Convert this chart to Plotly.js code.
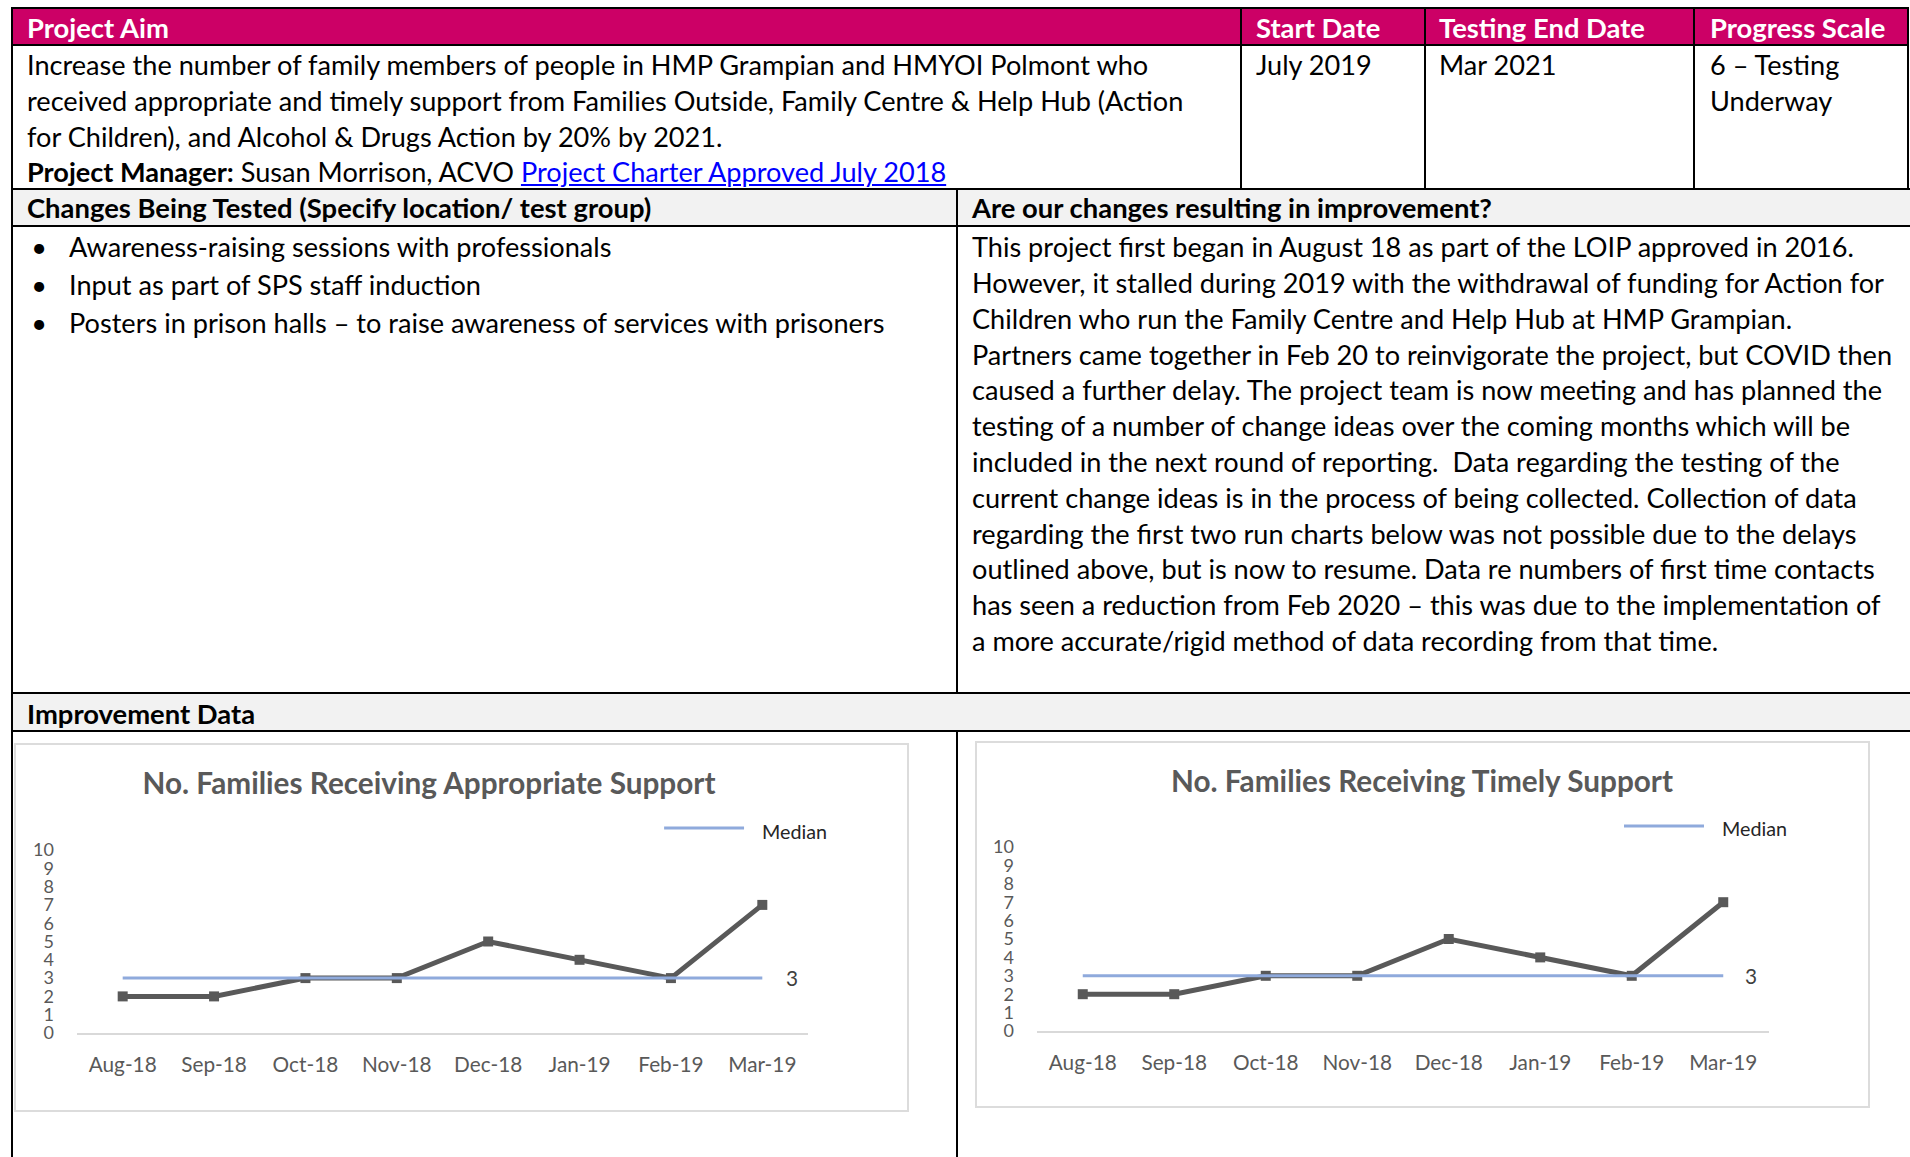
<!DOCTYPE html>
<html>
<head>
<meta charset="utf-8">
<script src="https://cdn.plot.ly/plotly-3.0.1.min.js"></script>
<style>
html,body{margin:0;padding:0;background:#fff;width:1910px;height:1157px;overflow:hidden;font-family:Lato,sans-serif;color:#000;}
.bg{position:absolute;}
.ln{position:absolute;background:#000;}
.tx{position:absolute;white-space:pre;}
.tx a{color:#0000ff;text-decoration:underline;}
.box{position:absolute;box-sizing:border-box;border:2px solid #dcdcdc;}
.chart{position:absolute;}
</style>
</head>
<body>
<script>
// ---------------- data ----------------
const headerCells = ['Project Aim', 'Start Date', 'Testing End Date', 'Progress Scale'];
const aimLines = [
  'Increase the number of family members of people in HMP Grampian and HMYOI Polmont who',
  'received appropriate and timely support from Families Outside, Family Centre & Help Hub (Action',
  'for Children), and Alcohol & Drugs Action by 20% by 2021.'
];
const managerLabel = 'Project Manager:';
const managerText = ' Susan Morrison, ACVO ';
const charterLink = 'Project Charter Approved July 2018';
const startDate = 'July 2019';
const endDate = 'Mar 2021';
const progressLines = ['6 – Testing', 'Underway'];
const changesHeader = 'Changes Being Tested (Specify location/ test group)';
const resultsHeader = 'Are our changes resulting in improvement?';
const changeItems = [
  'Awareness-raising sessions with professionals',
  'Input as part of SPS staff induction',
  'Posters in prison halls – to raise awareness of services with prisoners'
];
const resultLines = [
  'This project first began in August 18 as part of the LOIP approved in 2016.',
  'However, it stalled during 2019 with the withdrawal of funding for Action for',
  'Children who run the Family Centre and Help Hub at HMP Grampian.',
  'Partners came together in Feb 20 to reinvigorate the project, but COVID then',
  'caused a further delay. The project team is now meeting and has planned the',
  'testing of a number of change ideas over the coming months which will be',
  'included in the next round of reporting.  Data regarding the testing of the',
  'current change ideas is in the process of being collected. Collection of data',
  'regarding the first two run charts below was not possible due to the delays',
  'outlined above, but is now to resume. Data re numbers of first time contacts',
  'has seen a reduction from Feb 2020 – this was due to the implementation of',
  'a more accurate/rigid method of data recording from that time.'
];
const improvementHeader = 'Improvement Data';

const months = ['Aug-18', 'Sep-18', 'Oct-18', 'Nov-18', 'Dec-18', 'Jan-19', 'Feb-19', 'Mar-19'];
const appropriateSupport = [2, 2, 3, 3, 5, 4, 3, 7];
const appropriateMedian = [3, 3, 3, 3, 3, 3, 3, 3];
const timelySupport = [2, 2, 3, 3, 5, 4, 3, 7];
const timelyMedian = [3, 3, 3, 3, 3, 3, 3, 3];
const yTickValues = [0, 1, 2, 3, 4, 5, 6, 7, 8, 9, 10];
const chartTitles = ['No. Families Receiving Appropriate Support', 'No. Families Receiving Timely Support'];
const legendLabel = 'Median';

// ---------------- helpers ----------------
const ctx = document.createElement('canvas').getContext('2d');
function fit(text, weight, target, dflt) {
  ctx.font = weight + ' 100px Lato';
  const w = ctx.measureText(text).width;
  const s = 100 * target / w;
  return (isFinite(s) && s > 8 && s < 60) ? s : dflt;
}
function esc(s) { return s.replace(/&/g, '&amp;').replace(/</g, '&lt;').replace(/>/g, '&gt;'); }
function add(cls, css, html) {
  const d = document.createElement('div');
  d.className = cls;
  Object.assign(d.style, css);
  if (html != null) d.innerHTML = html;
  document.body.appendChild(d);
  return d;
}
function px(v) { return v + 'px'; }
function bg(x0, y0, x1, y1, color) { add('bg', {left: px(x0), top: px(y0), width: px(x1 - x0), height: px(y1 - y0), background: color}); }
function hline(y, x0, x1) { add('ln', {left: px(x0 - 1), top: px(y - 1), width: px(x1 - x0 + 2), height: '2px'}); }
function vline(x, y0, y1) { add('ln', {left: px(x - 1), top: px(y0 - 1), width: '2px', height: px(y1 - y0 + 2)}); }
function text(html, x, cy, lh, size, weight, color) {
  add('tx', {left: px(x), top: px(cy - lh / 2), lineHeight: px(lh), fontSize: px(size), fontWeight: weight, color: color || '#000'}, html);
}

const bodySize = fit(aimLines[0], 'normal', 1125, 24);
const boldSize = fit(changesHeader, 'bold', 626, 24);

// ---------------- table backgrounds ----------------
bg(12, 8, 1908, 45, '#cc0066');
bg(12, 189, 1912, 226, '#f2f2f2');
bg(12, 693, 1912, 731, '#f2f2f2');

// ---------------- table lines ----------------
hline(8, 12, 1908);
hline(45, 12, 1908);
hline(189, 12, 1912);
hline(226, 12, 1912);
hline(693, 12, 1912);
hline(731, 12, 1912);
vline(12, 8, 1160);
vline(1908, 8, 189);
vline(1241, 8, 189);
vline(1425, 8, 189);
vline(1694, 8, 189);
vline(957, 189, 693);
vline(957, 731, 1160);

// ---------------- table text ----------------
const headerX = [27, 1256, 1439, 1710];
headerCells.forEach((h, i) => text(esc(h), headerX[i], 27, 37, boldSize, 'bold', '#ffffff'));

const rowLH = 35.7;
const aimHtml = aimLines.map(esc).join('\n') + '\n<b>' + esc(managerLabel) + '</b>' + esc(managerText) + '<a>' + esc(charterLink) + '</a>';
text(aimHtml, 27, 65, rowLH, bodySize, 'normal');
text(esc(startDate), 1256, 65, rowLH, bodySize, 'normal');
text(esc(endDate), 1439, 65, rowLH, bodySize, 'normal');
text(progressLines.map(esc).join('\n'), 1710, 65, rowLH, bodySize, 'normal');

text(esc(changesHeader), 27, 208, 36, boldSize, 'bold');
text(esc(resultsHeader), 972, 208, 36, boldSize, 'bold');

const bulletLH = 37.8;
changeItems.forEach((c, i) => {
  const cy = 247.3 + i * bulletLH;
  add('tx', {left: '29px', width: '20px', textAlign: 'center', top: px(cy - bulletLH / 2), lineHeight: px(bulletLH), fontSize: px(bodySize)}, '•');
  text(esc(c), 69, cy, bulletLH, bodySize, 'normal');
});
text(resultLines.map(esc).join('\n'), 972, 247.3, 35.76, bodySize, 'normal');

text(esc(improvementHeader), 27, 713, 37, boldSize, 'bold');

// ---------------- charts ----------------
const titleSize = fit(chartTitles[0], 'bold', 574, 26);
const tickSize = fit('Aug-18', 'normal', 68, 21);
const yTickSize = 18;
const legendSize = fit(legendLabel, 'normal', 65, 20);

function drawChart(id, cfg, title, values, median) {
  add('box', {left: px(cfg.box.x), top: px(cfg.box.y), width: px(cfg.box.w), height: px(cfg.box.h)});
  const d = add('chart', {left: px(cfg.box.x), top: px(cfg.box.y), width: px(cfg.box.w), height: px(cfg.box.h)});
  d.id = id;
  const pw = cfg.plot.x1 - cfg.plot.x0, ph = cfg.plot.yBot - cfg.plot.yTop;
  const toPX = v => (v - cfg.plot.x0) / pw;
  const toPY = v => (cfg.plot.yBot - v) / ph;
  const last = months.length - 1;
  const traces = [
    {x: months, y: values, type: 'scatter', mode: 'lines+markers', name: 'Families',
     line: {color: '#595959', width: 5}, marker: {symbol: 'square', size: 10, color: '#595959'}, hoverinfo: 'x+y'},
    {x: months, y: median, type: 'scatter', mode: 'lines', name: legendLabel,
     line: {color: '#8faadc', width: 3}, hoverinfo: 'y'}
  ];
  const layout = {
    width: cfg.box.w, height: cfg.box.h,
    margin: {l: cfg.plot.x0 - cfg.box.x, r: cfg.box.x + cfg.box.w - cfg.plot.x1, t: cfg.plot.yTop - cfg.box.y, b: cfg.box.y + cfg.box.h - cfg.plot.yBot, pad: 0},
    paper_bgcolor: 'rgba(0,0,0,0)', plot_bgcolor: 'rgba(0,0,0,0)',
    showlegend: false,
    font: {family: 'Lato, sans-serif', color: '#595959'},
    title: {text: title, font: {family: 'Lato, sans-serif', size: titleSize, color: '#595959', weight: 'bold'},
            xref: 'container', yref: 'container', xanchor: 'center', yanchor: 'middle',
            x: (cfg.title.x - cfg.box.x) / cfg.box.w, y: 1 - (cfg.title.y - cfg.box.y) / cfg.box.h},
    xaxis: {type: 'category', range: [-0.5, months.length - 0.5], showline: true, linecolor: '#d9d9d9', linewidth: 2,
            showgrid: false, zeroline: false, ticks: '', ticklabelstandoff: 12, fixedrange: true,
            tickfont: {size: tickSize, color: '#595959'}},
    yaxis: {range: [0, 10], tickmode: 'array', tickvals: yTickValues, ticktext: yTickValues.map(String),
            showgrid: false, zeroline: false, showline: false, ticks: '', ticklabelstandoff: 22, fixedrange: true,
            tickfont: {size: yTickSize, color: '#595959'}},
    shapes: [{type: 'line', xref: 'paper', yref: 'paper', x0: toPX(cfg.legend.x0), x1: toPX(cfg.legend.x1),
              y0: toPY(cfg.legend.y), y1: toPY(cfg.legend.y), line: {color: '#8faadc', width: 3}}],
    annotations: [
      {xref: 'paper', yref: 'paper', x: toPX(cfg.legend.tx), y: toPY(cfg.legend.ty), xanchor: 'left', yanchor: 'middle',
       text: legendLabel, showarrow: false, font: {size: legendSize, color: '#262626'}},
      {x: months[last], y: median[last], text: String(median[last]), showarrow: false, xanchor: 'center', yanchor: 'middle',
       xshift: cfg.labelShift, font: {size: tickSize, color: '#404040'}}
    ]
  };
  Plotly.newPlot(id, traces, layout, {displayModeBar: false, staticPlot: false});
}

drawChart('chart1', {
  box: {x: 14, y: 743, w: 895, h: 369},
  plot: {x0: 76.5, x1: 808, yTop: 850, yBot: 1033},
  title: {x: 429, y: 784},
  legend: {x0: 664, x1: 744, y: 828, tx: 760, ty: 832},
  labelShift: 30
}, chartTitles[0], appropriateSupport, appropriateMedian);

drawChart('chart2', {
  box: {x: 975, y: 741, w: 895, h: 367},
  plot: {x0: 1037, x1: 1769, yTop: 847, yBot: 1031},
  title: {x: 1422, y: 782},
  legend: {x0: 1624, x1: 1704, y: 826, tx: 1720, ty: 828},
  labelShift: 28
}, chartTitles[1], timelySupport, timelyMedian);
</script>
</body>
</html>
